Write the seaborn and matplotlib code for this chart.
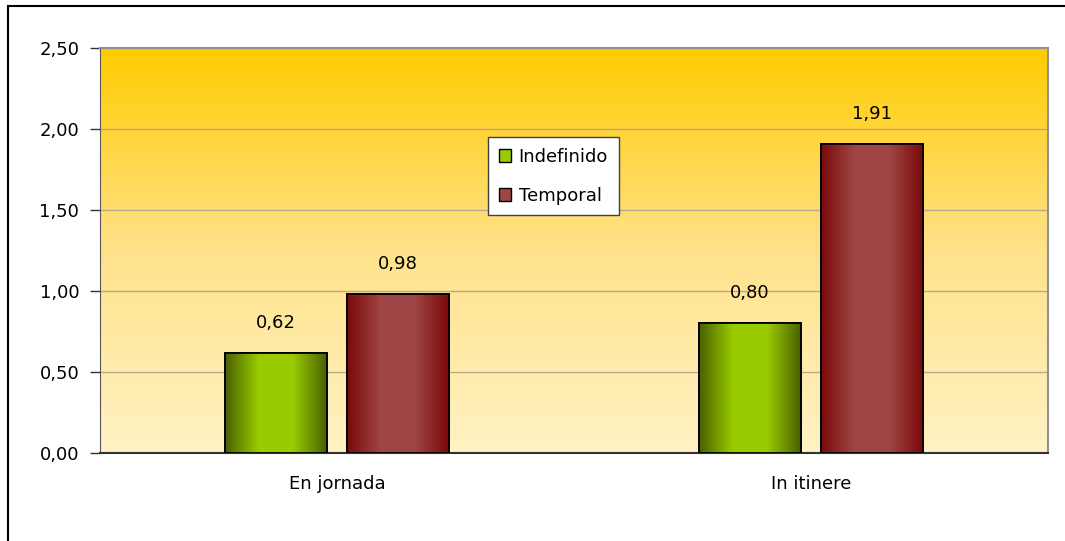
import numpy as np
import pandas as pd
import matplotlib
matplotlib.use("Agg")
import matplotlib.pyplot as plt
from matplotlib.colors import LinearSegmentedColormap
from matplotlib.patches import Rectangle, Patch
import seaborn as sns

categories = ["En jornada", "In itinere"]
series = ["Indefinido", "Temporal"]
indefinido = [0.62, 0.80]
temporal = [0.98, 1.91]
yticks = [0.0, 0.5, 1.0, 1.5, 2.0, 2.5]

df = pd.DataFrame({
    "categoria": categories * 2,
    "contrato": [series[0]] * 2 + [series[1]] * 2,
    "valor": indefinido + temporal,
})

sns.set_style("white")
plt.rcParams["font.family"] = ["DejaVu Sans"]
plt.rcParams["text.color"] = "black"
plt.rcParams["xtick.color"] = "black"
plt.rcParams["ytick.color"] = "black"
plt.rcParams["xtick.labelcolor"] = "black"
plt.rcParams["ytick.labelcolor"] = "black"

fig = plt.figure(figsize=(10.65, 5.41), dpi=100)
ax = fig.add_axes([100 / 1065, 88 / 541, 948 / 1065, 405 / 541])

palette = {"Indefinido": "#99cc00", "Temporal": "#a04040"}
sns.barplot(data=df, x="categoria", y="valor", hue="contrato", order=categories,
            hue_order=series, palette=palette, saturation=1, width=0.515, gap=0.17,
            edgecolor="black", linewidth=1.3, ax=ax, zorder=3, legend=False)

ax.set_xlim(-0.5, 1.5)
ax.set_ylim(0, 2.5)

# background gradient (gold at top, pale at bottom)
bg = LinearSegmentedColormap.from_list("bg", ["#fff2c4", "#ffe28a", "#ffcc00"])
grad = np.linspace(0, 1, 256).reshape(-1, 1)
ax.imshow(grad, cmap=bg, aspect="auto", origin="lower",
          extent=[-0.5, 1.5, 0, 2.5], zorder=0)

# cylinder-like horizontal gradients on the bars
green_cm = LinearSegmentedColormap.from_list("g", ["#4a6000", "#99cc00", "#99cc00", "#4a6000"])
red_cm = LinearSegmentedColormap.from_list("r", ["#7a0a0a", "#a04545", "#a04545", "#7a0a0a"])
hgrad = np.linspace(0, 1, 256).reshape(1, -1)
for p in list(ax.patches):
    x0, y0 = p.get_x(), p.get_y()
    w, h = p.get_width(), p.get_height()
    if h <= 0:
        continue
    fc = p.get_facecolor()
    cm = green_cm if fc[1] > fc[0] else red_cm
    im = ax.imshow(hgrad, cmap=cm, aspect="auto", extent=[x0, x0 + w, y0, y0 + h], zorder=3.5)
    im.set_clip_path(p)
    ax.add_patch(Rectangle((x0, y0), w, h, fill=False, edgecolor="black", linewidth=1.3, zorder=4))
    ax.text(x0 + w / 2, h + 0.13, f"{h:.2f}".replace(".", ","), ha="center", va="bottom",
            fontsize=13, color="black", zorder=5)

ax.set_xlim(-0.5, 1.5)
ax.set_ylim(0, 2.5)

ax.set_yticks(yticks)
ax.set_yticklabels([f"{v:.2f}".replace(".", ",") for v in yticks], fontsize=13)
ax.yaxis.grid(True, color="#b8a98a", linewidth=1, zorder=1)
ax.set_axisbelow(True)

ax.set_xticks([-0.5, 0.5, 1.5], minor=False)
ax.set_xticklabels(["", "", ""])
ax.set_xticks([0, 1], minor=True)
ax.set_xticklabels(categories, minor=True, fontsize=13)
ax.tick_params(axis="x", which="major", direction="out", length=6, color="#333333", width=1)
ax.tick_params(axis="x", which="minor", length=0, pad=16)
ax.tick_params(axis="y", direction="out", length=7, color="#333333", width=1, left=True, pad=8)
ax.set_xlabel("")
ax.set_ylabel("")

for side in ["top", "right"]:
    ax.spines[side].set_color("#909090")
    ax.spines[side].set_linewidth(1.5)
ax.spines["left"].set_color("#555555")
ax.spines["bottom"].set_color("#333333")
ax.spines["bottom"].set_linewidth(1.5)

# legend
handles = [Patch(facecolor="#99cc00", edgecolor="black", label="Indefinido"),
           Patch(facecolor="#a04545", edgecolor="black", label="Temporal")]
leg = ax.legend(handles=handles, loc="upper left",
                bbox_to_anchor=((488 - 100) / 948, (453 - 137) / 405),
                fontsize=13, frameon=True, fancybox=False, edgecolor="#404040",
                framealpha=1, handlelength=0.7, handleheight=0.7, handletextpad=0.4,
                labelspacing=1.15, borderpad=0.6, borderaxespad=0)
leg.get_frame().set_linewidth(1)
for t in leg.get_texts():
    t.set_color("black")

# outer chart frame (left and top visible only)
fig.add_artist(Rectangle((8 / 1065, -0.1), 1.2, (541 - 6) / 541 + 0.1, transform=fig.transFigure,
                         fill=False, edgecolor="black", linewidth=1.5))

fig.savefig("out.png", dpi=100)
